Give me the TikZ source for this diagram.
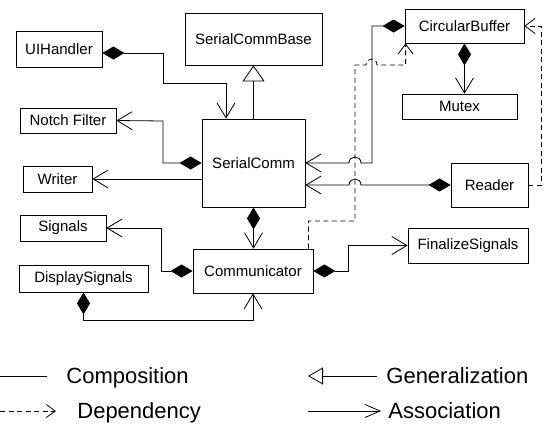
\documentclass[tikz,border=0pt]{standalone}
\usepackage{fontspec}
\setmainfont{Liberation Sans}
\usetikzlibrary{arrows.meta}
\begin{document}
\begin{tikzpicture}[x=1pt,y=-1pt,
  line width=0.8pt, line join=miter,
  box/.style={draw, line width=0.8pt, inner sep=0pt, font=\fontsize{15}{18}\selectfont},
  opentip/.tip={Straight Barb[length=15pt,width=18pt]},
  comp/.style={draw, {Diamond[length=22pt,width=13pt,fill=black]}-{opentip}},
  assoc/.style={draw, -{opentip}},
  gen/.style={draw, -{Triangle[open,length=16pt,width=22pt,fill=white]}},
  dep/.style={draw, dash pattern=on 5pt off 3.5pt, -{Straight Barb[length=10pt,width=15pt]}},
  legtext/.style={anchor=base west, inner sep=0pt, font=\fontsize{22}{26}\selectfont}
]
\useasboundingbox (0,0) rectangle (546,429);

% classes
\node[box, minimum width=137pt, minimum height=52pt] (base)    at (253.5,39)  {SerialCommBase};
\node[box, minimum width=86pt,  minimum height=36pt] (ui)      at (59,49)     {UIHandler};
\node[box, minimum width=96pt,  minimum height=25pt] (notch)   at (68,120.5)  {Notch Filter};
\node[box, minimum width=69pt,  minimum height=26pt] (writer)  at (57.5,179)  {Writer};
\node[box, minimum width=103pt, minimum height=88pt] (serial)  at (253.5,163) {SerialComm};
\node[box, minimum width=86pt,  minimum height=26pt] (signals) at (63,228)    {Signals};
\node[box, minimum width=120pt, minimum height=44pt] (comm)    at (253,271)   {Communicator};
\node[box, minimum width=129pt, minimum height=27pt] (disp)    at (83.5,278.5){DisplaySignals};
\node[box, minimum width=120pt, minimum height=35pt] (final)   at (468,245.5) {FinalizeSignals};
\node[box, minimum width=77pt,  minimum height=44pt] (reader)  at (489.5,185) {Reader};
\node[box, minimum width=119pt, minimum height=34pt] (cb)      at (464.5,26)  {CircularBuffer};
\node[box, minimum width=115pt, minimum height=25pt] (mutex)   at (459.5,106.5){Mutex};

% generalization
\draw[gen] (serial.north) -- (base.south);

% compositions / associations
\draw[comp] ([yshift=-4pt]ui.east) -| (163,83) -| ([xshift=-27.5pt]serial.north);
\draw[comp] (serial.west) -| (163,121) -- (notch.east);
\draw[assoc] (serial.west |- writer.east) -- (writer.east);
\draw[comp] (serial.south) -- (serial.south |- comm.north);
\draw[comp] (comm.west) -| (161,228) -- (signals.east);
\draw[comp] (disp.south) -- ++(0,28) -| (comm.south);
\draw[comp] (comm.east) -- ++(35,0) |- (final.west);
\draw[comp] (cb.south) -- (cb.south |- mutex.north);
\draw[comp] (cb.west) -| (372,163) -- (361,163)
  .. controls +(0,-8) and +(0,-8) .. (349,163) -- (serial.east);
\draw[comp] (reader.west) -- (361,185)
  .. controls +(0,-8) and +(0,-8) .. (349,185) -- (serial.east |- reader.west);

% dependencies
\draw[dep] ([xshift=-5pt]comm.north east) |- (355,221) -- (355,65) -- (366,65)
  .. controls +(0,-8) and +(0,-8) .. (377,65) -| ([xshift=1pt]cb.south west);
\draw[dep] (reader.east) -- ++(13,0) |- (cb.east);

% legend
\coordinate (lc1) at (0,376);   \coordinate (lc2) at (47,376);
\coordinate (ld1) at (0,411);   \coordinate (ld2) at (56,411);
\coordinate (lg1) at (377,376); \coordinate (lg2) at (308,376);
\coordinate (la1) at (308,411); \coordinate (la2) at (381,411);
\draw (lc1) -- (lc2);
\draw[dep, -{Straight Barb[length=9pt,width=13pt]}] (ld1) -- (ld2);
\draw[draw, -{Triangle[open,length=15pt,width=17pt,fill=white]}] (lg1) -- (lg2);
\draw[-{Straight Barb[length=15pt,width=13pt]}] (la1) -- (la2);
\node[legtext] (tcomp) at (66,383)  {Composition};
\node[legtext] (tdep)  at (77,418)  {Dependency};
\node[legtext] (tgen)  at (386,383) {Generalization};
\node[legtext] (tass)  at (388,418) {Association};
\end{tikzpicture}
\end{document}
